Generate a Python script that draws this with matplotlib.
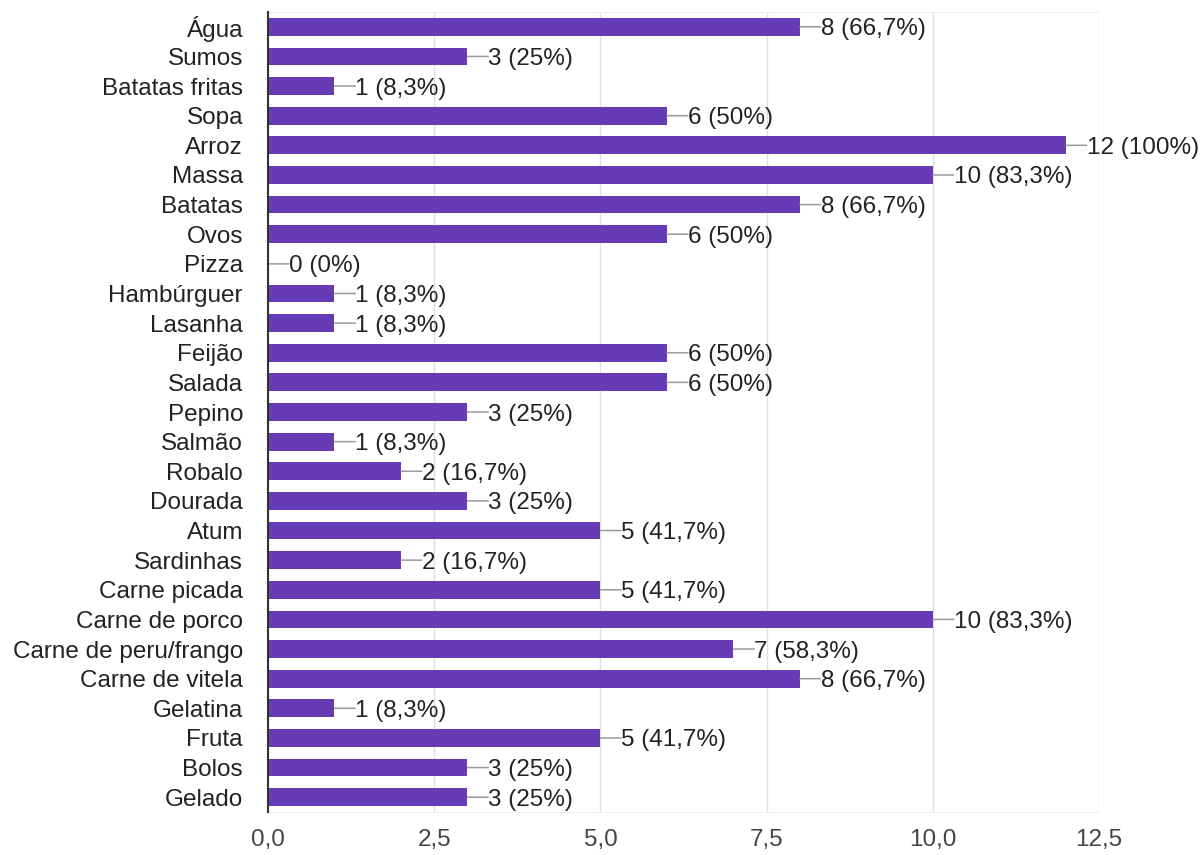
import matplotlib
matplotlib.use("Agg")
import matplotlib.pyplot as plt

categorias = ["Água", "Sumos", "Batatas fritas", "Sopa", "Arroz", "Massa", "Batatas",
              "Ovos", "Pizza", "Hambúrguer", "Lasanha", "Feijão", "Salada", "Pepino",
              "Salmão", "Robalo", "Dourada", "Atum", "Sardinhas", "Carne picada",
              "Carne de porco", "Carne de peru/frango", "Carne de vitela", "Gelatina",
              "Fruta", "Bolos", "Gelado"]
valores = [8, 3, 1, 6, 12, 10, 8, 6, 0, 1, 1, 6, 6, 3, 1, 2, 3, 5, 2, 5, 10, 7, 8, 1, 5, 3, 3]
rotulos = ["8 (66,7%)", "3 (25%)", "1 (8,3%)", "6 (50%)", "12 (100%)", "10 (83,3%)",
           "8 (66,7%)", "6 (50%)", "0 (0%)", "1 (8,3%)", "1 (8,3%)", "6 (50%)", "6 (50%)",
           "3 (25%)", "1 (8,3%)", "2 (16,7%)", "3 (25%)", "5 (41,7%)", "2 (16,7%)",
           "5 (41,7%)", "10 (83,3%)", "7 (58,3%)", "8 (66,7%)", "1 (8,3%)", "5 (41,7%)",
           "3 (25%)", "3 (25%)"]
xticks = [0, 2.5, 5, 7.5, 10, 12.5]

plt.rcParams['font.family'] = ['Liberation Sans', 'DejaVu Sans']

fig = plt.figure(figsize=(12.04, 8.55), dpi=100)
ax = fig.add_axes([268 / 1204, 1 - 812 / 855, 831 / 1204, 800 / 855])

pos = list(range(len(categorias)))
ax.barh(pos, valores, height=0.6, color="#673ab7", zorder=3)

# rótulos com linha de ligação
for y, v, t in zip(pos, valores, rotulos):
    ax.annotate("", xy=(v, y), xytext=(15, 0), textcoords="offset points",
                arrowprops=dict(arrowstyle="-", color="#9a9a9a", lw=1.1,
                                shrinkA=0, shrinkB=0), zorder=4)
    ax.annotate(t, xy=(v, y), xytext=(15, 0), textcoords="offset points",
                ha="left", va="center_baseline", fontsize=17.5, color="#222222", zorder=4)

ax.set_xlim(0, 12.5)
ax.set_ylim(len(categorias) - 0.5, -0.5)
ax.set_yticks(pos)
ax.set_yticklabels(categorias, fontsize=17.5, color="#222222", va="center_baseline")
ax.set_xticks(xticks)
ax.set_xticklabels([f"{x:.1f}".replace(".", ",") for x in xticks], fontsize=17.5, color="#444444")
ax.tick_params(axis="both", length=0)
ax.tick_params(axis="x", pad=12)
ax.tick_params(axis="y", pad=18)

ax.grid(axis="x", color="#e0e0e0", linewidth=1, zorder=0)
ax.spines["left"].set_color("#333333")
ax.spines["left"].set_linewidth(1.5)
ax.spines["left"].set_zorder(5)
for s in ["top", "bottom"]:
    ax.spines[s].set_color("#eeeeee")
ax.spines["right"].set_visible(False)

plt.savefig("out.png", dpi=100)
